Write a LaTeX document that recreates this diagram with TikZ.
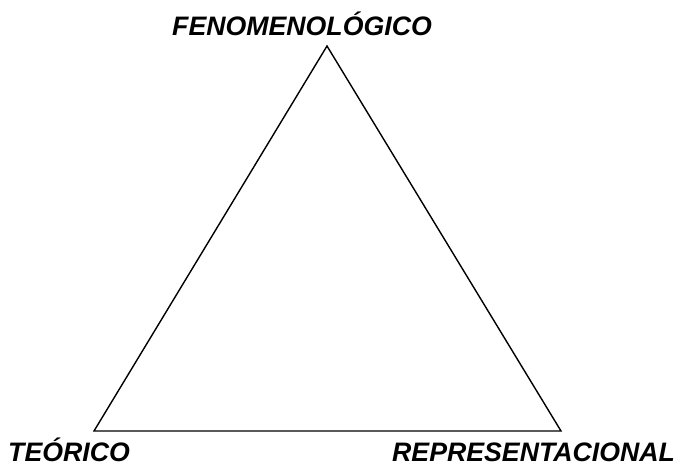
\documentclass[tikz,border=0pt]{standalone}
\usepackage{fontspec}
\setmainfont{Liberation Sans}
\begin{document}
\begin{tikzpicture}[x=1pt,y=-1pt,
  lbl/.style={inner sep=0pt, anchor=base west, font=\fontsize{26.7}{30}\selectfont\bfseries\itshape},
  edge/.style={line width=1.4pt, line join=miter}]
\useasboundingbox (0,0) rectangle (675,467);
\coordinate (top) at (327,46);
\coordinate (bl) at (94,431);
\coordinate (br) at (561,431);
\draw[edge] (top) -- (br) -- (bl) -- cycle;
\node[lbl] (fen) at (172,35) {FENOMENOLÓGICO};
\node[lbl] (teo) at (8,461.5) {TEÓRICO};
\node[lbl] (rep) at (392,461.5) {REPRESENTACIONAL};
\end{tikzpicture}
\end{document}
